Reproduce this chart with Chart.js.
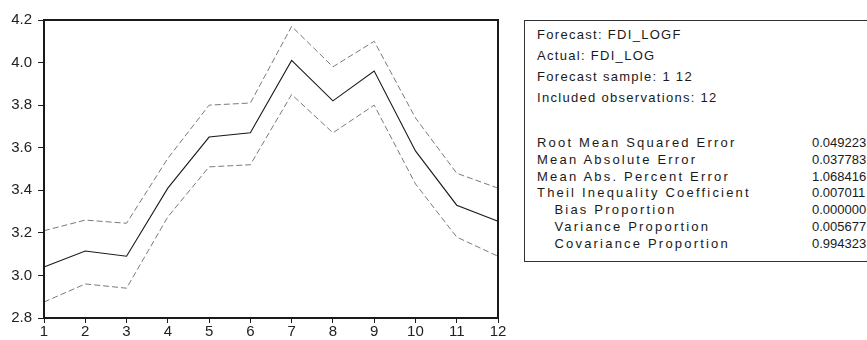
<!DOCTYPE html>
<html>
<head>
<meta charset="utf-8">
<script src="https://cdn.jsdelivr.net/npm/chart.js@4.4.0/dist/chart.umd.min.js"></script>
<style>
  html, body { margin: 0; padding: 0; background: #fff; overflow: hidden; }
  body { width: 867px; height: 340px; position: relative; font-family: "Liberation Sans", Arial, sans-serif; }
  #wrap { position: absolute; left: 0; top: 0; width: 512px; height: 340px; }
  #box { position: absolute; left: 524px; top: 20px; width: 400px; height: 242px; border: 1px solid #333; box-sizing: border-box; }
  .row { position: absolute; left: 12px; font-size: 13px; color: #1a1a1a; letter-spacing: 2.2px; white-space: pre; line-height: 14px; }
  .hdr { letter-spacing: 1.3px; }
  .val { position: absolute; left: 287px; font-size: 13px; color: #1a1a1a; letter-spacing: 0px; line-height: 14px; }
</style>
</head>
<body>
<div id="wrap"><canvas id="c" width="512" height="340"></canvas></div>
<div id="box"></div>
<script>
// ---- data ----
const categories = ["1","2","3","4","5","6","7","8","9","10","11","12"];
const forecast = [3.04, 3.115, 3.09, 3.41, 3.65, 3.67, 4.01, 3.82, 3.96, 3.585, 3.33, 3.255];
const upperBand = [3.21, 3.26, 3.245, 3.55, 3.80, 3.81, 4.17, 3.98, 4.10, 3.74, 3.48, 3.41];
const lowerBand = [2.875, 2.96, 2.94, 3.275, 3.51, 3.52, 3.85, 3.67, 3.80, 3.43, 3.18, 3.09];
const yTicks = [2.8, 3.0, 3.2, 3.4, 3.6, 3.8, 4.0, 4.2];
const headerLines = ["Forecast: FDI_LOGF", "Actual: FDI_LOG", "Forecast sample: 1 12", "Included observations: 12"];
const statLabels = ["Root Mean Squared Error", "Mean Absolute Error", "Mean Abs. Percent Error", "Theil Inequality Coefficient", "   Bias Proportion", "   Variance Proportion", "   Covariance Proportion"];
const statValues = ["0.049223", "0.037783", "1.068416", "0.007011", "0.000000", "0.005677", "0.994323"];

// ---- stats box ----
const box = document.getElementById('box');
const hdrTop = 7, hdrStep = 21, statTop = 115, statStep = 16.8;
headerLines.forEach((t, i) => {
  const d = document.createElement('div'); d.className = 'row hdr'; d.textContent = t;
  d.style.top = (hdrTop + i * hdrStep) + 'px'; box.appendChild(d);
});
statLabels.forEach((t, i) => {
  const y = Math.round(statTop + i * statStep);
  const d = document.createElement('div'); d.className = 'row'; d.textContent = t;
  d.style.top = y + 'px'; box.appendChild(d);
  const v = document.createElement('div'); v.className = 'val'; v.textContent = statValues[i];
  v.style.top = y + 'px'; box.appendChild(v);
});

// ---- chart ----
const frame = {
  id: 'frame',
  afterDraw(chart) {
    const a = chart.chartArea, ctx = chart.ctx;
    ctx.save();
    ctx.strokeStyle = '#1a1a1a'; ctx.lineWidth = 2;
    ctx.strokeRect(a.left, a.top, a.right - a.left, a.bottom - a.top);
    ctx.restore();
  }
};

new Chart(document.getElementById('c'), {
  type: 'line',
  data: {
    labels: categories,
    datasets: [
      { data: upperBand, borderColor: '#7a7a7a', borderWidth: 1, borderDash: [6, 3], pointRadius: 0, tension: 0, fill: false },
      { data: forecast, borderColor: '#1a1a1a', borderWidth: 1.1, pointRadius: 0, tension: 0, fill: false },
      { data: lowerBand, borderColor: '#7a7a7a', borderWidth: 1, borderDash: [6, 3], pointRadius: 0, tension: 0, fill: false }
    ]
  },
  options: {
    responsive: false,
    animation: false,
    events: [],
    layout: { padding: { top: 20, right: 14, left: 0, bottom: 0 } },
    plugins: { legend: { display: false }, tooltip: { enabled: false } },
    scales: {
      x: {
        offset: false,
        grid: { display: true, drawOnChartArea: false, drawTicks: true, tickLength: 5, color: '#1a1a1a' },
        border: { display: true, color: '#1a1a1a', width: 2 },
        ticks: { color: '#222', font: { family: 'Liberation Sans', size: 15 }, padding: 0, maxRotation: 0, autoSkip: false },
        afterFit(s) { s.height = 22; }
      },
      y: {
        min: 2.8, max: 4.2,
        afterBuildTicks(s) { s.ticks = yTicks.map(v => ({ value: v })); },
        grid: { display: true, drawOnChartArea: false, drawTicks: true, tickLength: 6, color: '#1a1a1a' },
        border: { display: true, color: '#1a1a1a', width: 2 },
        ticks: { color: '#222', font: { family: 'Liberation Sans', size: 15 }, padding: 6, callback: v => Number(v).toFixed(1) },
        afterFit(s) { s.width = 44; }
      }
    }
  },
  plugins: [frame]
});
</script>
</body>
</html>
